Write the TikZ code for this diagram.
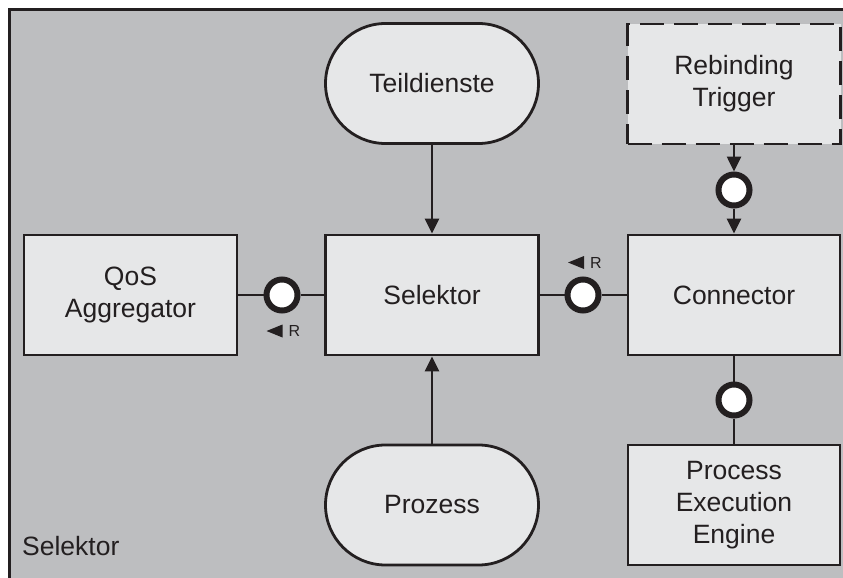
\documentclass[tikz,border=0pt]{standalone}
\usepackage{fontspec}
\setmainfont{Liberation Sans}
\usetikzlibrary{arrows.meta,shapes.misc}
\definecolor{framegray}{HTML}{BDBEC0}
\definecolor{boxgray}{HTML}{E6E7E8}
\definecolor{ink}{HTML}{231F20}
\begin{document}
\begin{tikzpicture}[x=1pt,y=-1pt,
  every node/.style={font=\fontsize{26.5}{32}\selectfont, text=ink},
  block/.style={draw=ink, line width=2.8pt, fill=boxgray, rectangle,
    minimum width=213pt, minimum height=120pt, align=center, inner sep=0pt},
  stadium/.style={block, rounded rectangle, rounded rectangle arc length=180},
  trigger/.style={block, dash pattern=on 24pt off 10pt},
  port/.style={circle, draw=ink, fill=white, line width=6pt,
    minimum size=31pt, inner sep=0pt},
  link/.style={draw=ink, line width=2.6pt},
  flow/.style={link, -{Triangle[length=15pt,width=14pt]}},
  roletext/.style={font=\fontsize{16}{18}\selectfont, inner sep=0pt}
]
\useasboundingbox (0,0) rectangle (843,578);
\clip (0,0) rectangle (843,578);

% outer container
\draw[draw=ink, line width=3pt, fill=framegray] (9.5,9.5) rectangle (860,600);
\node[anchor=base west, inner sep=0pt] (title) at (22,555) {Selektor};

% components
\node[stadium] (teil) at (432,83.5) {Teildienste};
\node[trigger] (reb) at (734,84) {Rebinding\\Trigger};
\node[block] (qos) at (130.5,295) {QoS\\Aggregator};
\node[block] (sel) at (432,295) {Selektor};
\node[block, minimum width=212pt] (con) at (734,295) {Connector};
\node[stadium] (proz) at (432,505) {Prozess};
\node[block, minimum width=212pt] (pee) at (734,505) {Process\\Execution\\Engine};

% interface ports
\node[port] (p1) at (282,295) {};
\node[port] (p2) at (583,295) {};
\node[port] (p3) at (734,190) {};
\node[port] (p4) at (734,400) {};

% channels between components
\draw[link] (qos.east) -- (p1.west);
\draw[link] (p1.east) -- (sel.west);
\draw[link] (sel.east) -- (p2.west);
\draw[link] (p2.east) -- (con.west);
\draw[link] (con.south) -- (p4.north);
\draw[link] (p4.south) -- (pee.north);
\draw[flow] (reb.south) -- (p3.north);
\draw[flow] (p3.south) -- (con.north);
\draw[flow] (teil.south) -- (sel.north);
\draw[flow] (proz.north) -- (sel.south);

% role markers
\node[roletext] (r1) at (294.5,331) {R};
\fill[ink] ([xshift=-6pt]r1.west) ++(0,-6.5) -- ++(0,13) -- ++(-16,-6.5) -- cycle;
\node[roletext] (r2) at (596,262.5) {R};
\fill[ink] ([xshift=-6pt]r2.west) ++(0,-6.5) -- ++(0,13) -- ++(-16,-6.5) -- cycle;
\end{tikzpicture}
\end{document}
